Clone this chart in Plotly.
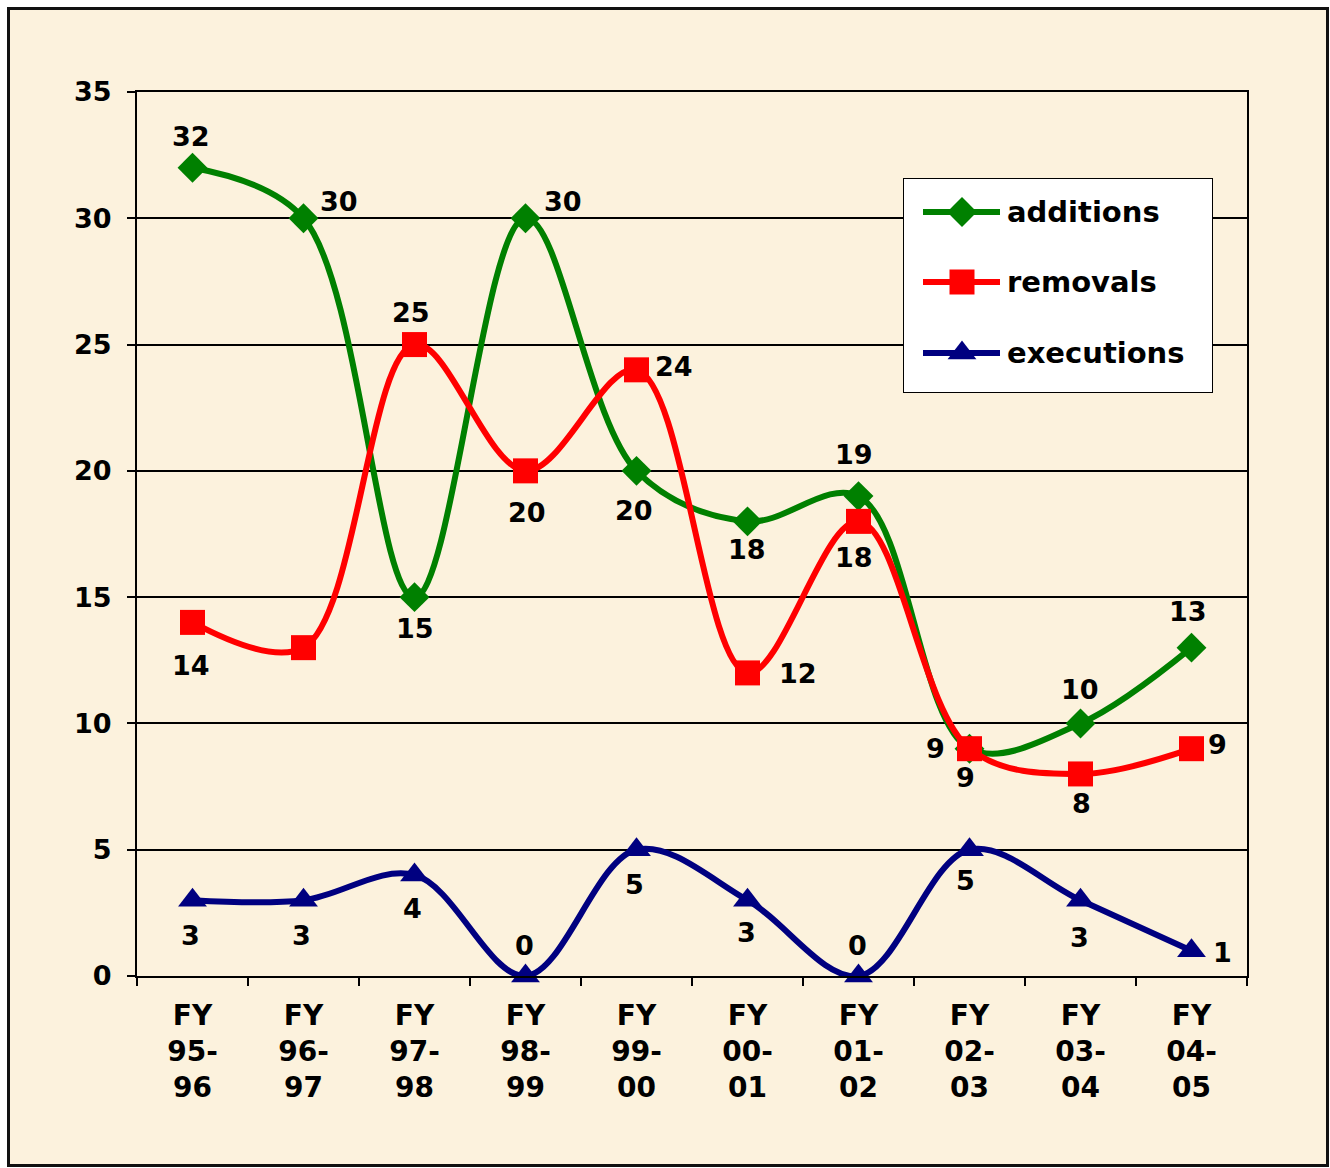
import plotly.graph_objects as go

# Fiscal years on the category axis
fiscal_years = ["FY<br>95-<br>96", "FY<br>96-<br>97", "FY<br>97-<br>98", "FY<br>98-<br>99",
                "FY<br>99-<br>00", "FY<br>00-<br>01", "FY<br>01-<br>02", "FY<br>02-<br>03",
                "FY<br>03-<br>04", "FY<br>04-<br>05"]

additions = [32, 30, 15, 30, 20, 18, 19, 9, 10, 13]
removals = [14, 13, 25, 20, 24, 12, 18, 9, 8, 9]
executions = [3, 3, 4, 0, 5, 3, 0, 5, 3, 1]

y_ticks = [0, 5, 10, 15, 20, 25, 30, 35]

# Label offsets (pixels) for each data point; None = no label
add_offsets = [(-2, -31), (35, -17), (0, 31), (37, -17), (-3, 40), (-1, 28),
               (-5, -42), (-34, 0), (-1, -34), (-4, -36)]
rem_offsets = [(-2, 43), None, (-4, -32), (1, 42), (37, -3), (50, 1),
               (-5, 36), (-4, 29), (1, 30), (26, -4)]
exe_offsets = [(-2, 35), (-2, 35), (-2, 34), (-1, -31), (-2, 35), (-1, 32),
               (-1, -31), (-4, 31), (-1, 37), (31, 2)]

GREEN = "#008000"
RED = "#FF0000"
NAVY = "#000080"
PARCHMENT = "#FCF2DD"
FONT = "DejaVu Sans"
FS = 27

x_idx = list(range(len(fiscal_years)))

fig = go.Figure()

series = [
    ("additions", additions, GREEN, "diamond", 23, add_offsets),
    ("removals", removals, RED, "square", 25, rem_offsets),
    ("executions", executions, NAVY, "triangle-up", 25, exe_offsets),
]

for name, vals, color, symbol, msize, offsets in series:
    fig.add_trace(go.Scatter(
        x=x_idx, y=vals, name=name, mode="lines+markers",
        line=dict(color=color, width=6, shape="spline", smoothing=1.0),
        marker=dict(symbol=symbol, size=msize, color=color, line=dict(width=0)),
        cliponaxis=False, showlegend=False,
    ))

# Value labels
for name, vals, color, symbol, msize, offsets in series:
    for i, (v, off) in enumerate(zip(vals, offsets)):
        if off is None:
            continue
        fig.add_annotation(
            x=i, y=v, xref="x", yref="y", text=str(v), showarrow=False,
            xshift=off[0], yshift=-off[1],
            font=dict(family=FONT, size=FS, color="black", weight="bold"),
        )

# Legend box drawn on its own pixel-scaled axes
LX0, LX1, LY0, LY1 = 903, 1213, 178, 393
fig.add_shape(type="rect", xref="x2", yref="y2", x0=LX0, x1=LX1, y0=LY0, y1=LY1,
              fillcolor="white", line=dict(color="black", width=2), layer="between")
legend_rows = [212, 282, 353]
for (name, vals, color, symbol, msize, offsets), ly in zip(series, legend_rows):
    fig.add_trace(go.Scatter(
        x=[923, 1000], y=[ly, ly], xaxis="x2", yaxis="y2", mode="lines",
        line=dict(color=color, width=6), showlegend=False, hoverinfo="skip",
    ))
    fig.add_trace(go.Scatter(
        x=[962], y=[ly], xaxis="x2", yaxis="y2", mode="markers",
        marker=dict(symbol=symbol, size=msize, color=color, line=dict(width=0)),
        showlegend=False, hoverinfo="skip",
    ))
    fig.add_annotation(
        x=1005, y=ly, xref="x2", yref="y2", text=name, showarrow=False,
        xanchor="left", yanchor="middle",
        font=dict(family=FONT, size=FS + 2, color="black", weight="bold"),
    )

W, H = 1330, 1168
L, R, T, B = 137, 83, 92, 192
pw, ph = W - L - R, H - T - B


def px_x(p):
    return (p - L) / pw


def px_y(p):
    return (H - B - p) / ph


# Parchment panel with a dark frame
fig.add_shape(type="rect", xref="paper", yref="paper",
              x0=px_x(8.5), x1=px_x(1327.5), y0=px_y(1165.5), y1=px_y(8.5),
              fillcolor=PARCHMENT, line=dict(color="#111111", width=3), layer="below")

fig.update_layout(
    width=W, height=H,
    margin=dict(l=L, r=R, t=T, b=B),
    paper_bgcolor="white",
    plot_bgcolor="rgba(0,0,0,0)",
    showlegend=False,
    font=dict(family=FONT, size=FS, color="black"),
    xaxis=dict(
        range=[-0.5, 9.5], tickmode="array", tickvals=x_idx, ticktext=fiscal_years,
        ticks="", showgrid=False, zeroline=False,
        showline=True, linecolor="black", linewidth=2, mirror=True,
        tickfont=dict(family=FONT, size=FS + 1, color="black", weight="bold"),
        ticklabelstandoff=13,
        minor=dict(tickmode="array", tickvals=[i - 0.5 for i in range(11)],
                   ticks="outside", ticklen=8, tickwidth=2, tickcolor="black",
                   showgrid=False),
    ),
    yaxis=dict(
        range=[0, 35], tickmode="array", tickvals=y_ticks,
        showgrid=True, gridcolor="black", gridwidth=2, zeroline=False,
        showline=True, linecolor="black", linewidth=2, mirror=True,
        ticks="outside", ticklen=8, tickwidth=2, tickcolor="black",
        tickfont=dict(family=FONT, size=FS, color="black", weight="bold"),
        ticklabelstandoff=10,
    ),
    xaxis2=dict(domain=[px_x(LX0), px_x(LX1)], range=[LX0, LX1], visible=False,
                anchor="y2", fixedrange=True),
    yaxis2=dict(domain=[px_y(LY1), px_y(LY0)], range=[LY1, LY0], visible=False,
                anchor="x2", fixedrange=True),
)

fig.write_html("out.html")
